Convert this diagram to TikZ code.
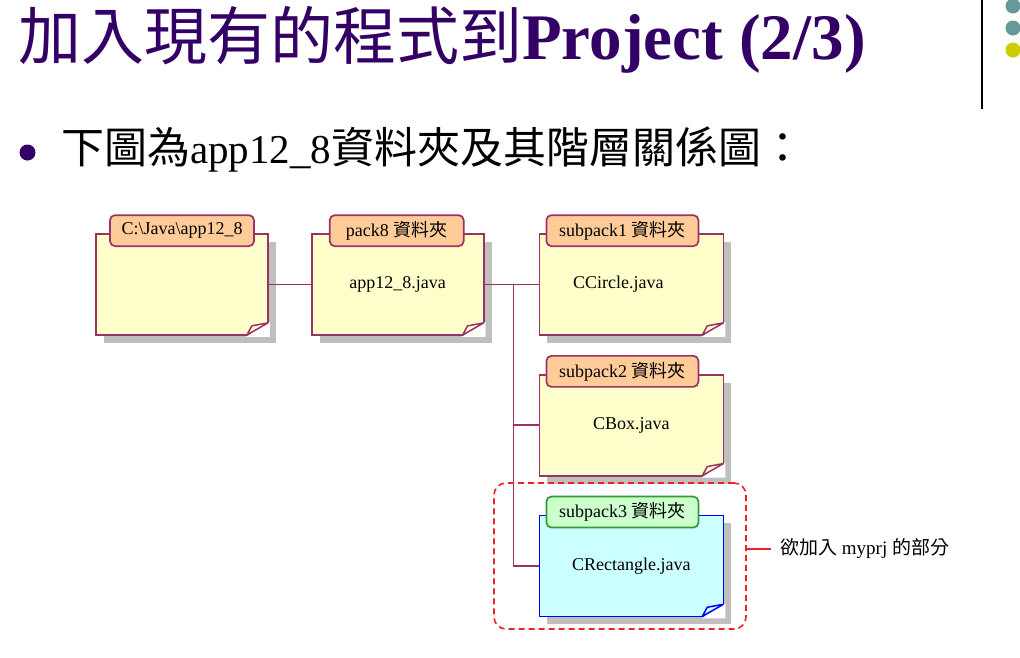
\documentclass[tikz,border=0pt]{standalone}
\usepackage{fontspec}
\setmainfont{Liberation Serif}
\newfontfamily\cjk{Noto Sans CJK TC}
\usepackage{xcolor}
\definecolor{titlepurple}{HTML}{330066}
\definecolor{maroon}{HTML}{993366}
\definecolor{notefill}{HTML}{FFFFCC}
\definecolor{tabfill}{HTML}{FFCC99}
\definecolor{cyanfill}{HTML}{CCFFFF}
\definecolor{greenfill}{HTML}{CCFFCC}
\definecolor{greenline}{HTML}{339933}
\definecolor{notered}{HTML}{EE2222}
\definecolor{dotteal}{HTML}{669999}
\definecolor{dotyellow}{HTML}{CCCC00}
\usepackage{tikz}
\usetikzlibrary{positioning,shadows}

\begin{document}
\begin{tikzpicture}[x=1pt, y=-1pt, node distance = 38pt,
    note/.style={
    	rectangle, minimum width = 172pt, minimum height = 101pt, line width = 1.7pt,
    	draw = maroon, fill = notefill, font = \fontsize{18}{20}\selectfont,
    	drop shadow = {shadow xshift = 8pt, shadow yshift = -8pt, fill = black!25, opacity = 1}},
    wide/.style={minimum width = 184pt},
    tab/.style={
    	rectangle, minimum height = 31pt, rounded corners = 5pt, line width = 1.7pt,
    	draw = maroon, fill = tabfill, anchor = west, inner xsep = 5pt,
    	font = \fontsize{18}{20}\selectfont},
    wire/.style={draw = maroon, line width = 1.7pt},
    dashbox/.style={draw = notered, line width = 1.6pt, rounded corners = 12pt,
    	dash pattern = on 6pt off 4pt}]
    \useasboundingbox (0,0) rectangle (1020,657);
    % title and bullet
    \node (title) [anchor = base west, inner sep = 0, text = titlepurple] at (18,59)
    	{{\cjk\fontsize{63}{70}\selectfont 加入現有的程式到}{\fontsize{65}{70}\selectfont\bfseries Project (2/3)}};
    \draw [line width = 1.2pt] (982,0) -- (982,109);
    \fill [dotteal] (1013,6) circle (7.5);
    \fill [dotteal] (1013,28) circle (7.5);
    \fill [dotyellow] (1013,50) circle (7.5);
    \fill [titlepurple] (27.5,152.5) circle (8);
    \node (intro) [anchor = base west, inner sep = 0] at (61,163)
    	{\fontsize{41}{44}\selectfont{\cjk\fontsize{43}{46}\selectfont 下圖為}app12\_8{\cjk\fontsize{43}{46}\selectfont 資料夾及其階層關係圖：}};
    % folders
    \node (root) [note] at (182,284.5) {};
    \node (pack) [note, right = 42pt of root] {app12\_8.java};
    \node (sub1) [note, wide, right = 54pt of pack] {\hspace*{-26pt}CCircle.java};
    \node (sub2) [note, wide, below = of sub1] {CBox.java};
    \node (sub3) [note, wide, below = of sub2, draw = blue, fill = cyanfill] {CRectangle.java};
    \foreach \n/\c/\f in {root/maroon/notefill, pack/maroon/notefill, sub1/maroon/notefill,
    	sub2/maroon/notefill, sub3/blue/cyanfill} {
    	\fill [white] ([xshift = -23pt, yshift = -1pt]\n.south east) -- ([xshift = 1pt, yshift = -1pt]\n.south east)
    		-- ([xshift = 1pt, yshift = 14pt]\n.south east) -- cycle;
    	\draw [\c, fill = \f, line width = 1.5pt, line join = round]
    		([xshift = -22pt, yshift = 0.8pt]\n.south east) -- ([xshift = -0.8pt, yshift = 13pt]\n.south east)
    		-- ([xshift = -17pt, yshift = 10pt]\n.south east) -- cycle;
    }
    \node (roottab) [tab, minimum width = 144pt] at ([xshift = 14pt, yshift = 2.5pt]root.north west) {C:\textbackslash Java\textbackslash app12\_8};
    \node (packtab) [tab, minimum width = 134pt] at ([xshift = 18pt, yshift = 2.5pt]pack.north west) {pack8 {\cjk 資料夾}};
    \node (sub1tab) [tab, minimum width = 152pt] at ([xshift = 7pt, yshift = 2.5pt]sub1.north west) {subpack1 {\cjk 資料夾}};
    \node (sub2tab) [tab, minimum width = 152pt] at ([xshift = 7pt, yshift = 2.5pt]sub2.north west) {subpack2 {\cjk 資料夾}};
    \node (sub3tab) [tab, minimum width = 152pt, draw = greenline, fill = greenfill] at ([xshift = 7pt, yshift = 2.5pt]sub3.north west) {subpack3 {\cjk 資料夾}};
    % connectors
    \coordinate (bus) at ([xshift = 29pt]pack.east);
    \draw [wire] (root) -- (pack);
    \draw [wire] (pack) -- (sub1);
    \draw [wire] (bus) |- (sub2);
    \draw [wire] (bus) |- (sub3);
    % the part to add
    \node (part) [dashbox, minimum width = 252pt, minimum height = 146pt] at (620,556) {};
    \node (goal) [anchor = west, inner xsep = 9pt, font = \fontsize{19}{21}\selectfont] at (771,549)
    	{{\cjk 欲加入} myprj {\cjk 的部分}};
    \draw [notered, line width = 1.6pt] (goal.west -| part.east) -- (goal.west);
\end{tikzpicture}
\end{document}
